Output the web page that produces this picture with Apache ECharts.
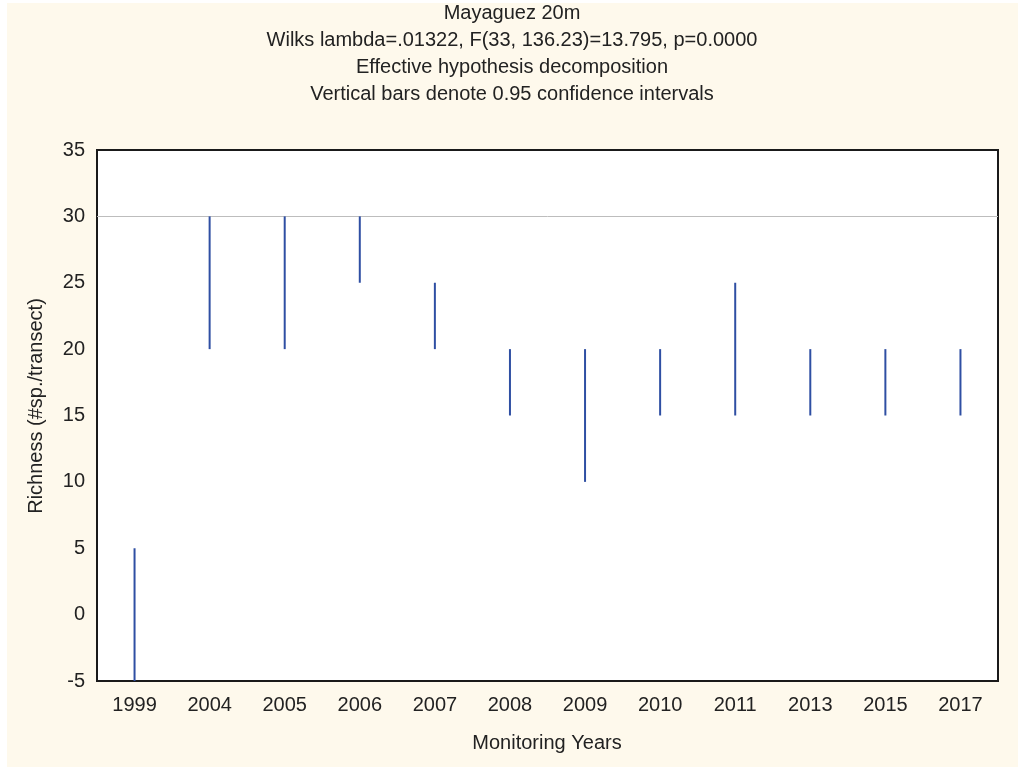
<!DOCTYPE html>
<html><head><meta charset="utf-8">
<script src="https://cdn.jsdelivr.net/npm/echarts@6/dist/echarts.min.js"></script>
<style>html,body{margin:0;padding:0;background:#fff}#c{width:1018px;height:767px}</style>
</head><body><div id="c"></div>
<script>
const categories = ['1999','2004','2005','2006','2007','2008','2009','2010','2011','2013','2015','2017'];
const lowValues  = [-5, 20, 20, 25, 20, 15, 10, 15, 15, 15, 15, 15];
const highValues = [ 5, 30, 30, 30, 25, 20, 20, 20, 25, 20, 20, 20];
const titleLines = ['Mayaguez 20m','Wilks lambda=.01322, F(33, 136.23)=13.795, p=0.0000','Effective hypothesis decomposition','Vertical bars denote 0.95 confidence intervals'];
const xAxisTitle = 'Monitoring Years';
const yAxisTitle = 'Richness (#sp./transect)';

const FONT = 'Liberation Sans, Arial, sans-serif';
const chart = echarts.init(document.getElementById('c'), null, {renderer:'canvas'});
const data = categories.map((c,i)=>[i, lowValues[i], highValues[i]]);
const titleGraphics = titleLines.map((t,i)=>({
  type:'text', x:512, y: 13 + i*27, z:10,
  style:{text:t, font:'20px '+FONT, fill:'#222', textAlign:'center', textVerticalAlign:'middle'}
}));
chart.setOption({
  animation:false,
  backgroundColor:'#fff',
  graphic:[
    {type:'rect', shape:{x:7,y:3,width:1011,height:764}, style:{fill:'#FEF9EC'}, z:-10, silent:true},
    {type:'text', x:547, y:743, style:{text:xAxisTitle, font:'20px '+FONT, fill:'#222', textAlign:'center', textVerticalAlign:'middle'}},
    {type:'text', x:36, y:406, rotation:Math.PI/2, style:{text:yAxisTitle, font:'20px '+FONT, fill:'#222', textAlign:'center', textVerticalAlign:'middle'}}
  ].concat(titleGraphics),
  grid:{left:97, right:20, top:150, bottom:86, show:true, borderColor:'#1a1a1a', borderWidth:2, backgroundColor:'#fff'},
  xAxis:{type:'category', data:categories, boundaryGap:true,
    axisLine:{show:false}, axisTick:{show:false},
    axisLabel:{color:'#222', fontSize:20, fontFamily:FONT, margin:14}},
  yAxis:{type:'value', min:-5, max:35, interval:5,
    axisLine:{show:false}, axisTick:{show:false}, splitLine:{show:false},
    axisLabel:{color:'#222', fontSize:20, fontFamily:FONT, margin:12}},
  series:[{
    type:'custom',
    data:data,
    renderItem:function(params, api){
      const lo = api.coord([api.value(0), api.value(1)]);
      const hi = api.coord([api.value(0), api.value(2)]);
      return {type:'line', shape:{x1:lo[0], y1:lo[1], x2:hi[0], y2:hi[1]},
        style:{stroke:'#2F4FA3', lineWidth:2}};
    },
    markLine:{silent:true, symbol:'none', label:{show:false},
      lineStyle:{color:'#bdbdbd', type:'solid', width:1},
      data:[{yAxis:30}]},
    z:5
  }]
});
</script></body></html>
